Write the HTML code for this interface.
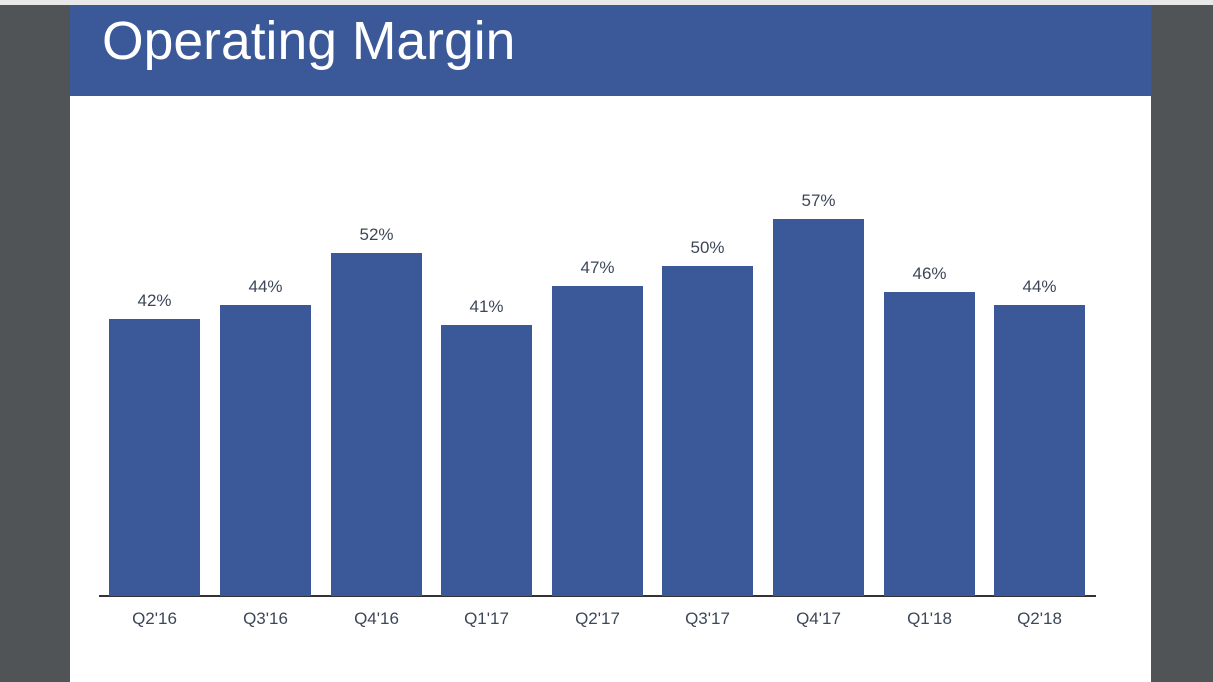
<!DOCTYPE html>
<html><head><style>
body{margin:0;width:1213px;height:682px;background:#505457;position:relative;overflow:hidden;font-family:"Liberation Sans",sans-serif}
#top{position:absolute;left:0;top:0;width:1213px;height:5px;background:#e8e8e8}
#slide{position:absolute;left:70px;top:5px;width:1081px;height:677px;background:#fff}
#hdr{position:absolute;left:70px;top:5px;width:1081px;height:91px;background:#3b5998}
#title{position:absolute;left:102px;top:12px;color:#fff;font-size:53.5px;line-height:60px}
.b{position:absolute;width:91px;background:#3b5998}
.v,.c{position:absolute;width:91px;text-align:center;font-size:17px;color:#3d4758}
#axis{position:absolute;left:99px;top:595px;width:997px;height:2px;background:#333}
</style></head><body>
<div id="top"></div><div id="slide"></div><div id="hdr"></div>
<div id="title">Operating Margin</div>
<div id="axis"></div>
<div id="bars"></div>
<script>
var d=[["Q2'16",109,319,"42%"],["Q3'16",220,305,"44%"],["Q4'16",331,253,"52%"],["Q1'17",441,325,"41%"],["Q2'17",552,286,"47%"],["Q3'17",662,266,"50%"],["Q4'17",773,219,"57%"],["Q1'18",884,292,"46%"],["Q2'18",994,305,"44%"]];
var h="";
d.forEach(function(e){
h+='<div class="b" style="left:'+e[1]+'px;top:'+e[2]+'px;height:'+(596-e[2])+'px"></div>';
h+='<div class="v" style="left:'+e[1]+'px;top:'+(e[2]-28)+'px">'+e[3]+'</div>';
h+='<div class="c" style="left:'+e[1]+'px;top:609px">'+e[0]+'</div>';
});
document.getElementById("bars").innerHTML=h;
</script>
</body></html>
